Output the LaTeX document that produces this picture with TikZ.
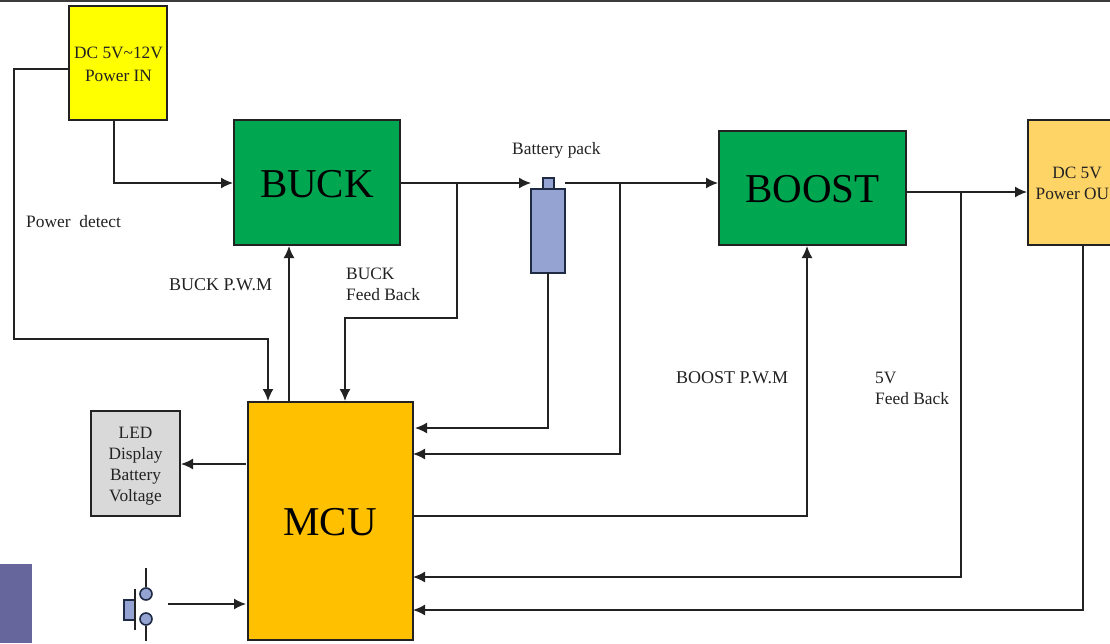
\documentclass[tikz,border=0pt]{standalone}
\usepackage{fontspec}
\setmainfont{Liberation Serif}
\usetikzlibrary{arrows.meta}
\definecolor{ink}{HTML}{222222}
\definecolor{inkblue}{HTML}{1F2A44}
\definecolor{boxgreen}{HTML}{00A650}
\definecolor{boxyellow}{HTML}{FFFF00}
\definecolor{boxout}{HTML}{FFD466}
\definecolor{boxmcu}{HTML}{FFC000}
\definecolor{boxgray}{HTML}{D9D9D9}
\definecolor{partblue}{HTML}{94A3D1}
\definecolor{cornerblue}{HTML}{67669C}
\definecolor{topbar}{HTML}{3C3C3C}
\tikzset{
  block/.style={draw=ink,line width=1.6pt,inner sep=0pt,anchor=north west,align=center,text=black},
  smallblock/.style={block,font=\fontsize{17.3}{21}\selectfont,text=ink},
  bigtxt/.style={font=\fontsize{41}{48}\selectfont,inner sep=0pt,text=black},
  boxtxt/.style={font=\fontsize{17.3}{23}\selectfont,align=center,inner sep=0pt,text=ink},
  lbl/.style={font=\fontsize{17.4}{21}\selectfont,align=left,inner sep=0pt,anchor=west,text=ink},
  wire/.style={draw=ink,line width=1.5pt},
  arr/.style={wire,-{Latex[length=12pt,width=11pt]}},
  part/.style={draw=inkblue,line width=1.6pt,fill=partblue,inner sep=0pt,anchor=north west},
}
\begin{document}
\begin{tikzpicture}[x=1pt,y=-1pt]
\useasboundingbox (0,0) rectangle (1110,643);
\clip (0,0) rectangle (1110,643);
\fill[topbar] (0,0) rectangle (1110,2);
\fill[cornerblue] (0,564) rectangle (32,643);
% blocks
\node[block,fill=boxyellow,minimum width=98pt,minimum height=114pt] (power) at (68.2,5.2) {};
\node[boxtxt] (powertxt) at (118.5,64) {DC 5V\textasciitilde12V\\Power IN};
\node[block,fill=boxgreen,minimum width=166pt,minimum height=125pt] (buck) at (233.2,119.2) {};
\node[bigtxt] (bucktxt) at (317,184) {BUCK};
\node[block,fill=boxgreen,minimum width=187pt,minimum height=114pt] (boost) at (718.2,130.2) {};
\node[bigtxt] (boosttxt) at (812.5,189) {BOOST};
\node[block,fill=boxout,minimum width=110pt,minimum height=125pt] (out) at (1027.2,119.2) {};
\node[boxtxt] (outtxta) at (1077,173) {DC 5V};
\node[boxtxt,anchor=west] (outtxtb) at (1035.5,194) {Power OU};
\node[block,fill=boxmcu,minimum width=165pt,minimum height=238pt] (mcu) at (247.2,401.2) {};
\node[bigtxt] (mcutxt) at (330,522) {MCU};
\node[block,fill=boxgray,minimum width=89pt,minimum height=105pt] (led) at (90.2,410.2) {};
\node[boxtxt,font=\fontsize{17.3}{21}\selectfont] (ledtxt) at (135.5,466.5) {LED\\Display\\Battery\\Voltage};
% battery
\node[part,minimum width=11pt,minimum height=11pt] (cap) at (542.2,177.2) {};
\node[part,minimum width=34pt,minimum height=84pt] (batt) at (530.2,188.2) {};
% switch
\node[part,minimum width=11pt,minimum height=20pt] (btn) at (123.2,599.2) {};
\node[part,circle,minimum size=12pt,anchor=center] (swa) at (146,594) {};
\node[part,circle,minimum size=12pt,anchor=center] (swb) at (146,619) {};
\coordinate (swaend) at (146,568);
\coordinate (swbend) at (146,641);
\coordinate (bara) at (135,589);
\coordinate (barb) at (135,630);
\draw[wire] (swa) -- (swaend);
\draw[wire] (swb) -- (swbend);
\draw[wire] (bara) -- (barb);
% helper points
\coordinate (detZ) at (69,69);
\coordinate (detA) at (14,69);
\coordinate (detB) at (14,339);
\coordinate (detC) at (268,339);
\coordinate (detD) at (268,401);
\coordinate (inA) at (114,120);
\coordinate (inB) at (114,183);
\coordinate (buckIn) at (233,183);
\coordinate (buckOut) at (400,183);
\coordinate (battIn) at (531,183);
\coordinate (battOut) at (565,183);
\coordinate (boostIn) at (718,183);
\coordinate (jA) at (457,183);
\coordinate (jA2) at (457,318);
\coordinate (jA3) at (345,318);
\coordinate (jA4) at (345,401);
\coordinate (jB) at (620,183);
\coordinate (jB2) at (620,454);
\coordinate (jB3) at (413,454);
\coordinate (pwmA) at (289,402);
\coordinate (pwmB) at (289,246);
\coordinate (batA) at (548,273);
\coordinate (batB) at (548,428);
\coordinate (batC) at (415,428);
\coordinate (bpA) at (413,516);
\coordinate (bpB) at (807,516);
\coordinate (bpC) at (807,246);
\coordinate (boostOut) at (906,192);
\coordinate (outIn) at (1027,192);
\coordinate (jC) at (961,192);
\coordinate (jC2) at (961,577);
\coordinate (jC3) at (413,577);
\coordinate (oA) at (1083,245);
\coordinate (oB) at (1083,610);
\coordinate (oC) at (413,610);
\coordinate (ledA) at (246,464);
\coordinate (ledB) at (181,464);
\coordinate (swOut) at (168,604);
\coordinate (swIn) at (246,604);
% connectors
\draw[arr] (detZ) -- (detA) -- (detB) -- (detC) -- (detD);
\draw[arr] (inA) -- (inB) -- (buckIn);
\draw[arr] (buckOut) -- (battIn);
\draw[arr] (battOut) -- (boostIn);
\draw[arr] (jA) -- (jA2) -- (jA3) -- (jA4);
\draw[arr] (jB) -- (jB2) -- (jB3);
\draw[arr] (pwmA) -- (pwmB);
\draw[arr] (batA) -- (batB) -- (batC);
\draw[arr] (bpA) -- (bpB) -- (bpC);
\draw[arr] (boostOut) -- (outIn);
\draw[arr] (jC) -- (jC2) -- (jC3);
\draw[arr] (oA) -- (oB) -- (oC);
\draw[arr] (ledA) -- (ledB);
\draw[arr] (swOut) -- (swIn);
% labels
\node[lbl] (l1) at (26,221.5) {Power\ \ detect};
\node[lbl,font=\fontsize{18}{21}\selectfont] (l2) at (169,284.5) {BUCK P.W.M};
\node[lbl] (l3) at (346,284) {BUCK\\Feed Back};
\node[lbl] (l4) at (512,150) {Battery pack};
\node[lbl,font=\fontsize{18}{21}\selectfont] (l5) at (676,377.5) {BOOST P.W.M};
\node[lbl] (l6) at (875,388) {5V\\Feed Back};
\end{tikzpicture}
\end{document}
